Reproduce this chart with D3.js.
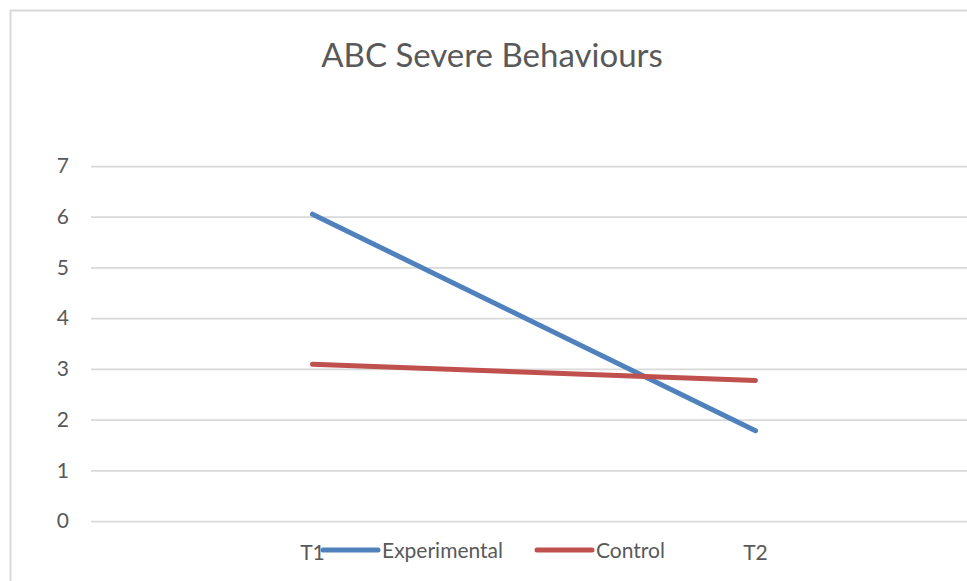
<!DOCTYPE html>
<html>
<head>
<meta charset="utf-8">
<script src="https://cdn.jsdelivr.net/npm/d3@7"></script>
<style>
  body { margin: 0; background: #fff; }
  svg { display: block; font-family: Lato, "Open Sans", sans-serif; }
</style>
</head>
<body>
<div id="chart"></div>
<script>
const width = 967;
const height = 581;

// chart data
const categories = ["T1", "T2"];
const seriesNames = ["Experimental", "Control"];
const experimental = [6.05, 1.78];
const control = [3.09, 2.77];
const yTicks = [0, 1, 2, 3, 4, 5, 6, 7];
const colors = ["#4f81bd", "#c0504d"];

const series = [experimental, control];

// plot area (runs off the right edge, like the reference crop)
const plot = { left: 91, right: 977, top: 166, bottom: 521 };

let svg = d3.select("#chart").append("svg")
  .attr("width", width)
  .attr("height", height);

// outer chart border
svg.append("rect")
  .attr("x", 10.5)
  .attr("y", 10.5)
  .attr("width", width + 20)
  .attr("height", height + 20)
  .attr("fill", "#fff")
  .attr("stroke", "#d9d9d9")
  .attr("stroke-width", 2);

let x = d3.scaleBand()
  .domain(categories)
  .range([plot.left, plot.right]);

let y = d3.scaleLinear()
  .domain([0, 7])
  .range([plot.bottom, plot.top]);

// gridlines + y labels
let yAxis = svg.append("g")
  .attr("transform", "translate(" + plot.left + ",0)")
  .call(d3.axisLeft(y).tickValues(yTicks).tickFormat(d3.format("d"))
    .tickSize(-(plot.right - plot.left)).tickPadding(22));
yAxis.select(".domain").remove();
yAxis.selectAll(".tick line").attr("stroke", "#d9d9d9").attr("stroke-width", 1.75);
yAxis.selectAll(".tick text")
  .attr("fill", "#595959")
  .style("font-size", "21px")
  .style("font-family", "Lato, 'Open Sans', sans-serif");

// x labels
svg.append("g")
  .selectAll("text")
  .data(categories)
  .enter().append("text")
  .attr("x", d => x(d) + x.bandwidth() / 2)
  .attr("y", 560)
  .attr("text-anchor", "middle")
  .attr("fill", "#595959")
  .style("font-size", "21px")
  .text(d => d);

// series lines
let line = d3.line()
  .x((d, i) => x(categories[i]) + x.bandwidth() / 2)
  .y(d => y(d));

svg.append("g")
  .selectAll("path")
  .data(series)
  .enter().append("path")
  .attr("d", line)
  .attr("fill", "none")
  .attr("stroke", (d, i) => colors[i])
  .attr("stroke-width", 5)
  .attr("stroke-linecap", "round");

// legend
const legendX = [323, 537];
let legend = svg.append("g")
  .selectAll("g")
  .data(seriesNames)
  .enter().append("g")
  .attr("transform", (d, i) => "translate(" + legendX[i] + ",550)");
legend.append("line")
  .attr("x1", 0)
  .attr("x2", 55)
  .attr("stroke", (d, i) => colors[i])
  .attr("stroke-width", 5)
  .attr("stroke-linecap", "round");
legend.append("text")
  .attr("x", 59)
  .attr("y", 8)
  .attr("fill", "#595959")
  .style("font-size", "21px")
  .text(d => d);

// title
svg.append("text")
  .attr("x", 492)
  .attr("y", 67)
  .attr("text-anchor", "middle")
  .attr("fill", "#595959")
  .style("font-size", "33px")
  .text("ABC Severe Behaviours");
</script>
</body>
</html>
